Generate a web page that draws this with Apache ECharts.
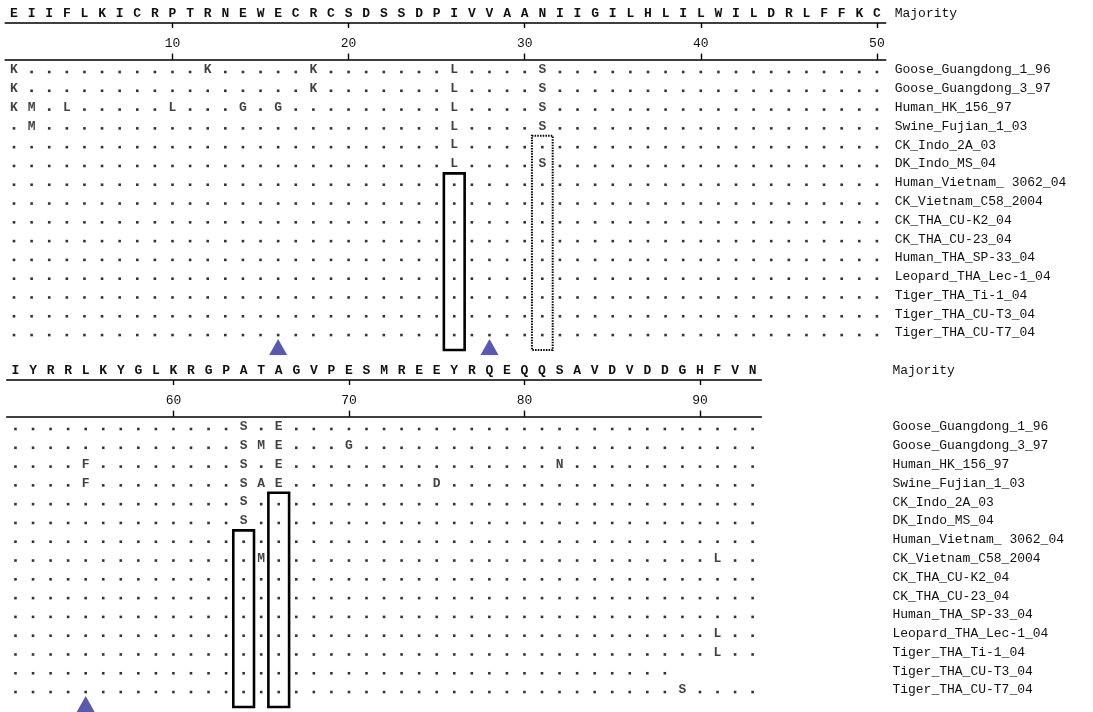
<!DOCTYPE html>
<html>
<head>
<meta charset="utf-8">
<title>HA alignment</title>
<script src="https://cdn.jsdelivr.net/npm/echarts@6/dist/echarts.min.js"></script>
<style>
  html, body { margin: 0; padding: 0; background: #fff; }
  #chart { width: 1093px; height: 712px; }
</style>
</head>
<body>
<div id="chart"></div>
<script>
// strains, top to bottom
const strainNames = [
  'Goose_Guangdong_1_96',
  'Goose_Guangdong_3_97',
  'Human_HK_156_97',
  'Swine_Fujian_1_03',
  'CK_Indo_2A_03',
  'DK_Indo_MS_04',
  'Human_Vietnam_ 3062_04',
  'CK_Vietnam_C58_2004',
  'CK_THA_CU-K2_04',
  'CK_THA_CU-23_04',
  'Human_THA_SP-33_04',
  'Leopard_THA_Lec-1_04',
  'Tiger_THA_Ti-1_04',
  'Tiger_THA_CU-T3_04',
  'Tiger_THA_CU-T7_04'
];

// majority sequence, residues 1-50 and 51-93
const majorityTop = 'EIIFLKICRPTRNEWECRCSDSSDPIVVAANIIGILHLILWILDRLFFKC';
const majorityBottom = 'IYRRLKYGLKRGPATAGVPESMREEYRQEQQSAVDVDDGHFVN';
const firstResidueTop = 1;
const firstResidueBottom = 51;
const ticksTop = [10, 20, 30, 40, 50];
const ticksBottom = [60, 70, 80, 90];

// '.' = same as majority (spaces only split blocks of ten)
const rowsTop = [
  'K......... .K.....K.. .....L.... S......... ..........',
  'K......... .......K.. .....L.... S......... ..........',
  'KM.L.....L ...G.G.... .....L.... S......... ..........',
  '.M........ .......... .....L.... S......... ..........',
  '.......... .......... .....L.... .......... ..........',
  '.......... .......... .....L.... S......... ..........',
  '.......... .......... .......... .......... ..........',
  '.......... .......... .......... .......... ..........',
  '.......... .......... .......... .......... ..........',
  '.......... .......... .......... .......... ..........',
  '.......... .......... .......... .......... ..........',
  '.......... .......... .......... .......... ..........',
  '.......... .......... .......... .......... ..........',
  '.......... .......... .......... .......... ..........',
  '.......... .......... .......... .......... ..........'
];
const rowsBottom = [
  '.......... ...S.E.... .......... .......... ...',
  '.......... ...SME...G .......... .......... ...',
  '....F..... ...S.E.... .......... .N........ ...',
  '....F..... ...SAE.... ....D..... .......... ...',
  '.......... ...S...... .......... .......... ...',
  '.......... ...S...... .......... .......... ...',
  '.......... .......... .......... .......... ...',
  '.......... ....M..... .......... .......... L..',
  '.......... .......... .......... .......... ...',
  '.......... .......... .......... .......... ...',
  '.......... .......... .......... .......... ...',
  '.......... .......... .......... .......... L..',
  '.......... .......... .......... .......... L..',
  '.......... .......... .......... ........',
  '.......... .......... .......... ........S. ...'
];

// highlighted columns: [residue, first row, last row, dotted]
const boxesTop = [[26, 6, 14, false], [31, 4, 14, true]];
const boxesBottom = [[64, 6, 14, false], [66, 4, 14, false]];
// blue arrowheads under these residues
const arrowsTop = [16, 28];
const arrowsBottom = [55];

const MONO = '"Liberation Mono", "DejaVu Sans Mono", monospace';

const panels = [
  { major: majorityTop, start: firstResidueTop, rows: rowsTop, ticks: ticksTop,
    boxes: boxesTop, arrows: arrowsTop,
    left: 5.2, width: 880.5, headTop: 23, bodyTop: 60.6, nameGap: 9 },
  { major: majorityBottom, start: firstResidueBottom, rows: rowsBottom, ticks: ticksBottom,
    boxes: boxesBottom, arrows: arrowsBottom,
    left: 6.7, width: 754.7, headTop: 380, bodyTop: 417.6, nameGap: 131 }
];

const grid = [], xAxis = [], yAxis = [], series = [];

panels.forEach(function (p, k) {
  const n = p.major.length;
  const lo = p.start - 0.5, hi = p.start + n - 0.5;
  const head = k * 2, body = k * 2 + 1;

  grid.push({ left: p.left, width: p.width, top: p.headTop, height: p.bodyTop - 1 - p.headTop });
  grid.push({ left: p.left, width: p.width, top: p.bodyTop, height: 15 * 18.79 });

  const allPos = [];
  for (let i = 0; i < n; i++) allPos.push(p.start + i);

  // majority line with sequence letters on top
  xAxis.push({
    type: 'value', gridIndex: head, position: 'top', min: lo, max: hi,
    splitLine: { show: false },
    axisLine: { onZero: false, lineStyle: { color: '#000', width: 1.6 } },
    axisTick: { inside: true, length: 5, customValues: p.ticks, lineStyle: { color: '#000', width: 1.4 } },
    axisLabel: {
      customValues: allPos, margin: 3, color: '#111', fontFamily: MONO, fontWeight: 'bold', fontSize: 13,
      formatter: function (v) { return p.major.charAt(v - p.start); }
    },
    name: 'Majority', nameLocation: 'end', nameGap: p.nameGap,
    nameTextStyle: { fontFamily: MONO, fontSize: 13, color: '#111', align: 'left', verticalAlign: 'bottom', padding: [0, 0, 3, 0] }
  });
  // numbering line
  xAxis.push({
    type: 'value', gridIndex: head, position: 'bottom', min: lo, max: hi,
    splitLine: { show: false },
    axisLine: { onZero: false, lineStyle: { color: '#000', width: 1.6 } },
    axisTick: { inside: true, length: 6, customValues: p.ticks, lineStyle: { color: '#000', width: 1.4 } },
    axisLabel: { inside: true, margin: 10, customValues: p.ticks, color: '#111', fontFamily: MONO, fontSize: 13 }
  });
  yAxis.push({ type: 'value', gridIndex: head, min: 0, max: 1, show: false });

  // alignment body
  xAxis.push({ type: 'value', gridIndex: body, min: lo, max: hi, show: false, splitLine: { show: false } });
  yAxis.push({
    type: 'category', gridIndex: body, data: strainNames, inverse: true, position: 'right',
    axisLine: { show: false }, axisTick: { show: false }, splitLine: { show: false },
    axisLabel: { margin: p.nameGap, align: 'left', color: '#111', fontFamily: MONO, fontSize: 13 }
  });

  const dots = [], letters = [];
  p.rows.forEach(function (row, r) {
    const s = row.replace(/ /g, '');
    for (let i = 0; i < s.length; i++) {
      const c = s.charAt(i);
      if (c === '.') dots.push([p.start + i, r]);
      else letters.push([p.start + i, r, c]);
    }
  });

  const xi = k * 3 + 2, yi = k * 2 + 1;
  series.push({
    type: 'scatter', xAxisIndex: xi, yAxisIndex: yi, data: dots, silent: true, clip: false,
    symbol: 'rect', symbolSize: 2.6, symbolOffset: [0, 2], itemStyle: { color: '#000' }
  });
  series.push({
    type: 'scatter', xAxisIndex: xi, yAxisIndex: yi, data: letters, silent: true, clip: false,
    symbolSize: 1, itemStyle: { color: 'rgba(0,0,0,0)' },
    label: {
      show: true, position: 'inside', color: '#111', fontFamily: MONO, fontWeight: 'bold', fontSize: 13,
      formatter: function (q) { return q.value[2]; }
    }
  });
  series.push({
    type: 'custom', xAxisIndex: xi, yAxisIndex: yi, silent: true, clip: false,
    data: p.boxes.map(function (b) { return [b[0], b[1], b[2], b[3] ? 1 : 0]; }),
    renderItem: function (params, api) {
      const a = api.coord([api.value(0), api.value(1)]);
      const b = api.coord([api.value(0), api.value(2)]);
      const u = api.size([1, 1]);
      const w = u[0] * 1.18;
      const dotted = api.value(3) === 1;
      return {
        type: 'rect',
        shape: { x: a[0] - w / 2, y: a[1] - u[1] * 0.5, width: w, height: b[1] - a[1] + u[1] * 1.4 },
        style: { fill: null, stroke: '#000', lineWidth: dotted ? 2 : 2.6, lineDash: dotted ? [1.5, 1.2] : null }
      };
    }
  });
  series.push({
    type: 'scatter', xAxisIndex: xi, yAxisIndex: yi, silent: true, clip: false,
    data: p.arrows.map(function (a) { return [a, strainNames.length - 1]; }),
    symbol: 'triangle', symbolSize: [18, 16], symbolOffset: [0, 14],
    itemStyle: { color: '#2f2f9c' }
  });
});

const chart = echarts.init(document.getElementById('chart'));
chart.setOption({
  animation: false,
  backgroundColor: '#fff',
  grid: grid,
  xAxis: xAxis,
  yAxis: yAxis,
  series: series
});
</script>
</body>
</html>
